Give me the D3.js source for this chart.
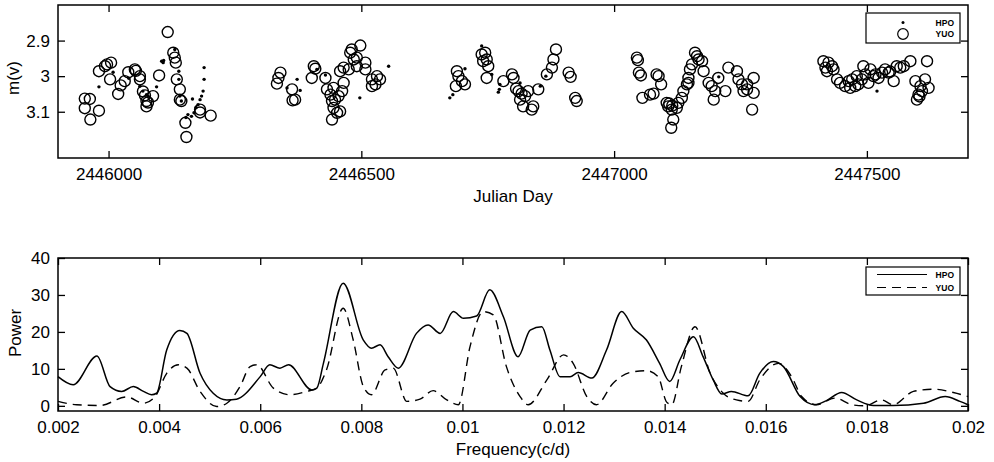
<!DOCTYPE html>
<html>
<head>
<meta charset="utf-8">
<script src="https://cdn.jsdelivr.net/npm/d3@7"></script>
<style>
  body { margin: 0; background: #fff; }
  svg text { font-family: "Liberation Sans", Arial, sans-serif; fill: #000; }
</style>
</head>
<body>
<svg width="994" height="462"></svg>
<script>
// ---- data ----
// light curve: day offsets from JD 2446000, magnitude
var JD0 = 2446000;
var yuoPoints = [
  [-47,3.063],[-37,3.064],[-47,3.090],[-19,3.097],[-36,3.122],[-19,2.986],[-7,2.972],[5,2.962],[-3,2.967],
  [3,3.009],[19,3.050],[24,3.026],[32,3.014],[39,2.989],[52,2.981],[54,2.985],[62,3.000],[62,3.009],
  [68,3.043],[72,3.054],[75,3.070],[78,3.074],[75,3.085],[88,3.056],[100,2.998],[117,2.876],[128,2.934],
  [131,2.948],[133,2.962],[135,3.009],[141,3.037],[141,3.066],[144,3.070],[152,3.131],[154,3.171],
  [181,3.094],[181,3.102],[202,3.111],
  [340,2.990],[336,3.005],[333,3.021],[363,3.037],[369,3.066],[364,3.068],[406,2.972],[402,3.005],
  [409,2.979],[429,3.005],[432,3.037],[439,3.052],[442,3.070],[445,3.089],[442,3.122],[452,3.103],
  [458,3.099],[448,3.066],[462,3.042],[465,3.019],[458,2.986],[465,2.976],[475,2.981],[478,2.934],
  [481,2.925],[485,2.953],[491,2.948],[498,2.914],[491,2.972],[508,2.962],[508,2.981],[521,3.009],
  [528,3.023],[537,3.009],[521,3.028],[531,3.000],[445,3.033],[455,3.056],
  [689,2.986],[692,3.000],[687,3.028],[705,3.023],[699,3.014],[738,2.939],[741,2.958],[748,2.953],
  [745,2.934],[751,2.972],[748,3.005],[781,3.014],[798,2.995],[801,3.005],[806,3.035],[811,3.042],
  [814,3.066],[817,3.049],[824,3.056],[820,3.085],[840,3.085],[837,3.094],[830,3.042],[850,3.037],
  [867,2.995],[877,2.976],[880,2.953],[885,2.925],[910,2.990],[914,3.002],[923,3.061],[926,3.070],
  [1045,2.948],[1047,2.955],[1049,2.990],[1053,2.998],[1056,3.061],[1071,3.052],[1078,3.049],
  [1084,2.995],[1088,3.000],[1093,3.023],[1104,3.075],[1107,3.085],[1109,3.077],[1114,3.094],
  [1115,3.083],[1117,3.122],[1113,3.145],[1124,3.089],[1127,3.075],[1134,3.061],[1137,3.042],
  [1144,3.023],[1147,3.005],[1147,3.019],[1150,2.981],[1154,2.967],[1160,2.934],[1164,2.944],
  [1167,2.953],[1174,2.958],[1177,2.986],[1187,3.019],[1193,3.028],[1197,3.066],[1200,3.042],
  [1206,3.005],[1220,3.042],[1226,2.976],[1243,2.986],[1246,3.009],[1253,3.023],[1256,3.042],
  [1263,3.037],[1263,3.023],[1276,3.005],[1276,3.047],[1273,3.094],
  [1414,2.958],[1418,2.976],[1424,2.962],[1431,2.972],[1434,2.981],[1421,2.986],[1441,3.009],
  [1447,3.019],[1457,3.028],[1464,3.014],[1467,3.033],[1471,3.009],[1477,3.028],[1480,3.000],
  [1483,3.023],[1490,3.009],[1493,2.972],[1497,2.995],[1503,3.019],[1507,2.981],[1513,3.000],
  [1517,2.995],[1523,3.005],[1530,2.990],[1536,2.981],[1543,2.990],[1546,2.987],[1553,3.014],
  [1559,2.972],[1566,2.976],[1573,2.972],[1586,2.958],[1596,3.014],[1606,3.028],[1609,3.042],
  [1602,3.052],[1604,3.057],[1615,3.009],[1619,2.958],[1622,3.033],[1599,3.066]
];
var hpoPoints = [
  [-19,3.030],[9,2.989],[40,3.006],[62,3.028],[68,3.042],[75,3.052],[78,3.056],[95,3.030],
  [105,2.958],[109,2.956],[108,2.962],[131,2.925],[139,2.986],[139,3.009],[141,3.056],[144,3.070],
  [164,3.113],[166,3.064],[169,3.103],[177,3.080],[181,3.066],[184,3.056],[187,3.042],[189,3.009],
  [189,2.976],[153,3.116],[157,3.108],[173,3.088],
  [373,3.009],[353,3.033],[379,3.040],[429,2.997],[412,2.981],[497,3.061],[554,2.972],
  [738,2.915],[705,2.979],[675,3.061],[681,3.052],[774,3.023],[773,3.037],[771,3.045],[814,3.019],
  [854,3.028],[865,3.000],[758,2.995],
  [1207,3.002],[1520,3.042]
];
var jdTicks = [2446000, 2446500, 2447000, 2447500];
var magTicks = [2.9, 3, 3.1];
var magTickLabels = ["2.9", "3", "3.1"];

// periodogram: frequency (c/d), power
var hpoFreq = [0.002,0.0023,0.00277,0.00303,0.00326,0.00349,0.00369,0.00385,0.00395,0.00415,0.00441,
  0.00455,0.00481,0.00507,0.00534,0.00553,0.0060,0.00619,0.00639,0.00656,0.00702,0.00712,0.00725,
  0.00764,0.00804,0.0082,0.00837,0.00853,0.00873,0.00909,0.00932,0.00956,0.00982,0.01002,0.01028,
  0.01054,0.01081,0.0111,0.01134,0.01157,0.01173,0.01193,0.01213,0.01229,0.01256,0.01285,0.01315,
  0.01338,0.01364,0.0139,0.0141,0.0143,0.01457,0.01476,0.01496,0.01513,0.01532,0.01565,0.01588,
  0.01615,0.01635,0.01668,0.01697,0.0172,0.0175,0.0178,0.01813,0.01852,0.01912,0.01955,0.01984,0.02];
var hpoPower = [7.9,5.7,13.5,5.2,3.9,5.2,3.9,3.0,3.4,15.1,20.4,
  19.6,8.8,3.4,1.6,1.8,7.9,11.1,10.2,11.1,4.3,4.8,11.5,
  33.2,17.8,15.6,16.5,13.3,10.2,19.6,21.9,19.6,25.5,23.7,24.3,
  31.4,24.1,13.3,20.5,21.4,15.1,7.9,7.9,9.0,7.5,15.1,25.5,
  21.0,17.8,11.5,6.6,12.4,18.7,13.3,7.0,3.2,3.9,2.7,8.8,
  12.0,10.6,2.5,0.3,1.4,3.6,1.6,0.1,0.1,0.7,2.5,1.2,0.3];
var yuoFreq = [0.002,0.00237,0.00283,0.00336,0.00369,0.00392,0.00415,0.00438,0.00455,0.00481,0.00514,
  0.00534,0.0056,0.0058,0.00593,0.00626,0.00659,0.00692,0.00712,0.00731,0.00764,0.00784,0.00804,
  0.0082,0.00847,0.00863,0.0089,0.00916,0.00942,0.00969,0.00992,0.01015,0.01041,0.01061,0.01087,
  0.01114,0.0113,0.01167,0.012,0.01219,0.01246,0.01265,0.01298,0.01331,0.01364,0.01387,0.01404,
  0.01414,0.01433,0.0146,0.0149,0.01516,0.01542,0.01565,0.01588,0.01625,0.01651,0.01671,0.017,
  0.01737,0.0177,0.01796,0.01829,0.01852,0.01892,0.01931,0.01971,0.02];
var yuoPower = [1.2,0.3,0.1,2.4,0.7,2.5,8.8,11.1,10.2,3.9,-0.2,
  0.7,5.2,10.6,11.1,4.8,3.0,3.9,4.8,9.7,26.4,17.8,5.2,
  3.0,9.7,10.2,1.2,1.8,4.1,1.6,0.3,16.0,25.5,24.6,10.6,
  2.5,0.3,7.0,13.8,11.5,2.5,0.3,6.1,9.0,9.5,7.9,1.0,
  0.3,10.6,21.4,8.8,3.4,1.6,1.2,7.0,11.5,7.9,2.5,0.3,
  2.1,0.3,0.0,1.6,0.3,3.9,4.5,3.6,2.5];
var freqTicks = [0.002,0.004,0.006,0.008,0.01,0.012,0.014,0.016,0.018,0.02];
var freqTickLabels = ["0.002","0.004","0.006","0.008","0.01","0.012","0.014","0.016","0.018","0.02"];
var powerTicks = [0, 10, 20, 30, 40];

var seriesNames = ["HPO", "YUO"];

// ---- layout ----
var svg = d3.select("svg");
var left = 58, right = 968;
var tickLen = 7;

function frame(g, x, y, xt, yt, xfmt, yfmt) {
  g.append("g").attr("transform", "translate(0," + y.range()[0] + ")")
    .call(d3.axisBottom(x).tickValues(xt).tickFormat(xfmt).tickSize(-tickLen).tickPadding(10));
  g.append("g").attr("transform", "translate(0," + y.range()[1] + ")")
    .call(d3.axisTop(x).tickValues(xt).tickFormat("").tickSize(-tickLen));
  g.append("g").attr("transform", "translate(" + left + ",0)")
    .call(d3.axisLeft(y).tickValues(yt).tickFormat(yfmt).tickSize(-tickLen).tickPadding(8));
  g.append("g").attr("transform", "translate(" + right + ",0)")
    .call(d3.axisRight(y).tickValues(yt).tickFormat("").tickSize(-tickLen));
  g.selectAll(".domain").remove();
  g.selectAll(".tick line").attr("stroke", "#000").attr("stroke-width", 1.3);
  g.selectAll(".tick text").attr("font-size", 17).attr("fill", "#000");
  g.append("rect")
    .attr("x", left).attr("y", y.range()[1])
    .attr("width", right - left).attr("height", y.range()[0] - y.range()[1])
    .attr("fill", "none").attr("stroke", "#000").attr("stroke-width", 1.5);
}

// ---- top panel: light curve ----
var x1 = d3.scaleLinear().domain([2445900, 2447700]).range([left, right]);
var y1 = d3.scaleLinear().domain([3.23, 2.8]).range([158, 5]);
var topPanel = svg.append("g");

topPanel.append("g").selectAll("circle.yuo")
  .data(yuoPoints).enter()
  .append("circle")
  .attr("cx", function(d) { return x1(JD0 + d[0]); })
  .attr("cy", function(d) { return y1(d[1]); })
  .attr("r", 5.5)
  .attr("fill", "none")
  .attr("stroke", "#000")
  .attr("stroke-width", 1.4);

topPanel.append("g").selectAll("circle.hpo")
  .data(hpoPoints).enter()
  .append("circle")
  .attr("cx", function(d) { return x1(JD0 + d[0]); })
  .attr("cy", function(d) { return y1(d[1]); })
  .attr("r", 1.7)
  .attr("fill", "#000");

frame(topPanel, x1, y1, jdTicks, magTicks, d3.format("d"), function(d, i) { return magTickLabels[i]; });

topPanel.append("text").attr("x", 513).attr("y", 202)
  .attr("text-anchor", "middle").attr("font-size", 17).text("Julian Day");
topPanel.append("text").attr("transform", "translate(19,78) rotate(-90)")
  .attr("text-anchor", "middle").attr("font-size", 17).text("m(v)");

// legend (top)
var lg1 = topPanel.append("g");
lg1.append("rect").attr("x", 866).attr("y", 13).attr("width", 94).attr("height", 30)
  .attr("fill", "#fff").attr("stroke", "#000").attr("stroke-width", 1.2);
lg1.append("circle").attr("cx", 903).attr("cy", 22.5).attr("r", 1.5).attr("fill", "#000");
lg1.append("circle").attr("cx", 903).attr("cy", 34).attr("r", 5.3)
  .attr("fill", "none").attr("stroke", "#000").attr("stroke-width", 1.2);
lg1.selectAll("text").data(seriesNames).enter().append("text")
  .attr("x", 954).attr("y", function(d, i) { return 25.5 + i * 11; })
  .attr("text-anchor", "end").attr("font-size", 8.5).attr("font-weight", "bold")
  .text(function(d) { return d; });

// ---- bottom panel: periodogram ----
var x2 = d3.scaleLinear().domain([0.002, 0.02]).range([left, right]);
var y2 = d3.scaleLinear().domain([-1.4, 40]).range([411, 258]);
var botPanel = svg.append("g");

var line = d3.line()
  .x(function(d) { return x2(d[0]); })
  .y(function(d) { return y2(d[1]); })
  .curve(d3.curveMonotoneX);

var hpoLine = d3.zip(hpoFreq, hpoPower),
    yuoLine = d3.zip(yuoFreq, yuoPower);

botPanel.append("path").datum(yuoLine).attr("d", line)
  .attr("fill", "none").attr("stroke", "#000").attr("stroke-width", 1.4)
  .attr("stroke-dasharray", "9,6");
botPanel.append("path").datum(hpoLine).attr("d", line)
  .attr("fill", "none").attr("stroke", "#000").attr("stroke-width", 1.5);

frame(botPanel, x2, y2, freqTicks, powerTicks,
  function(d, i) { return freqTickLabels[i]; }, d3.format("d"));

botPanel.append("text").attr("x", 513).attr("y", 455)
  .attr("text-anchor", "middle").attr("font-size", 17).text("Frequency(c/d)");
botPanel.append("text").attr("transform", "translate(21,333) rotate(-90)")
  .attr("text-anchor", "middle").attr("font-size", 17).text("Power");

// legend (bottom)
var lg2 = botPanel.append("g");
lg2.append("rect").attr("x", 866).attr("y", 267).attr("width", 94).attr("height", 28)
  .attr("fill", "#fff").attr("stroke", "#000").attr("stroke-width", 1.2);
lg2.append("line").attr("x1", 877).attr("x2", 927).attr("y1", 274.5).attr("y2", 274.5)
  .attr("stroke", "#000").attr("stroke-width", 1.2);
lg2.append("line").attr("x1", 877).attr("x2", 927).attr("y1", 287.5).attr("y2", 287.5)
  .attr("stroke", "#000").attr("stroke-width", 1.2).attr("stroke-dasharray", "9,6");
lg2.selectAll("text").data(seriesNames).enter().append("text")
  .attr("x", 954).attr("y", function(d, i) { return 277.5 + i * 13; })
  .attr("text-anchor", "end").attr("font-size", 8.5).attr("font-weight", "bold")
  .text(function(d) { return d; });
</script>
</body>
</html>
